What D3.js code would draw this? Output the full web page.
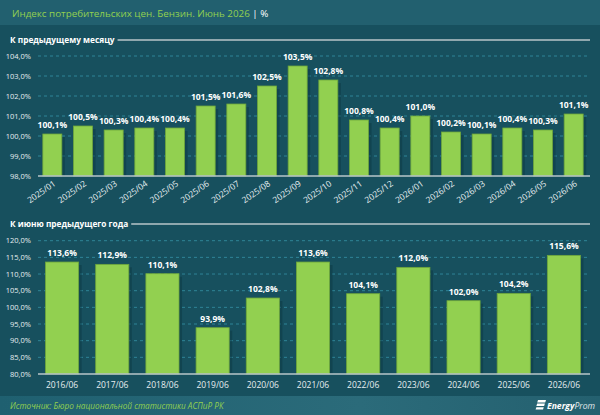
<!DOCTYPE html>
<html lang="ru">
<head>
<meta charset="UTF-8">
<title>Индекс потребительских цен. Бензин</title>
<style>
  body { margin: 0; background: #17505e; }
  svg { display: block; font-family: "Open Sans", "DejaVu Sans", sans-serif; }
  .tick-y { fill: #e6eef0; font-size: 7.5px; text-anchor: end; }
  .tick-x { fill: #e6eef0; font-size: 8.5px; }
  .val { fill: #ffffff; font-size: 8.5px; font-weight: bold; text-anchor: middle; }
  .grid { stroke: #2f8497; stroke-width: 1; stroke-dasharray: 3,3; }
  .base { stroke: #b9c6ca; stroke-width: 1.5; }
  .section { fill: #ffffff; font-size: 8.3px; font-weight: bold; }
  .bar { fill: #92d050; stroke: #6ea63b; stroke-width: 0.8; }
  .shadow { fill: #0c3540; opacity: 0.45; }
</style>
</head>
<body>
<svg id="chart" width="600" height="415"></svg>
<script src="https://cdn.jsdelivr.net/npm/d3@7/dist/d3.min.js"></script>
<script>
// Monthly index (to previous month)
const monthLabels = ["2025/01","2025/02","2025/03","2025/04","2025/05","2025/06","2025/07","2025/08","2025/09",
                     "2025/10","2025/11","2025/12","2026/01","2026/02","2026/03","2026/04","2026/05","2026/06"];
const monthValues = [100.1,100.5,100.3,100.4,100.4,101.5,101.6,102.5,103.5,102.8,100.8,100.4,101.0,100.2,100.1,100.4,100.3,101.1];
const monthTicks = [98,99,100,101,102,103,104];

// Annual index (June to June of previous year)
const yearLabels = ["2016/06","2017/06","2018/06","2019/06","2020/06","2021/06","2022/06","2023/06","2024/06","2025/06","2026/06"];
const yearValues = [113.6,112.9,110.1,93.9,102.8,113.6,104.1,112.0,102.0,104.2,115.6];
const yearTicks = [80,85,90,95,100,105,110,115,120];

const W = 600, H = 415;
const svg = d3.select("#chart");
const fmt = v => d3.format(".1f")(v).replace(".", ",") + "%";

// background, title bar, footer
svg.append("rect").attr("width", W).attr("height", H).attr("fill", "#17505e");
svg.append("rect").attr("width", W).attr("height", 25).attr("fill", "#22606f");

const defs = svg.append("defs");
const fg = defs.append("linearGradient").attr("id", "footGrad");
fg.append("stop").attr("offset", "0%").attr("stop-color", "#1f6070");
fg.append("stop").attr("offset", "60%").attr("stop-color", "#2b6b7a");
fg.append("stop").attr("offset", "100%").attr("stop-color", "#24606f");
svg.append("rect").attr("y", 396).attr("width", W).attr("height", 19).attr("fill", "url(#footGrad)");

const title = svg.append("text").attr("x", 12).attr("y", 16.5)
    .style("font-size", "9.8px");
title.append("tspan").attr("fill", "#92d050").text("Индекс потребительских цен. Бензин. Июнь 2026");
title.append("tspan").attr("fill", "#ffffff").text(" | %");

svg.append("text").attr("x", 10).attr("y", 408.5)
    .attr("fill", "#92d050").style("font-size", "8.2px").style("font-style", "italic")
    .text("Источник: Бюро национальной статистики АСПиР РК");

// logo
const logo = svg.append("g").attr("transform", "translate(535,399)");
[0, 3.6, 7.2].forEach((dy, i) => {
    logo.append("path")
        .attr("d", `M${3 - i * 0.8},${dy + 1} h${8 - i * 0.3} l-0.8,2.4 h-${8 - i * 0.3} z`)
        .attr("fill", "#ffffff");
});
const lt = logo.append("text").attr("x", 12).attr("y", 10).style("font-size", "8.6px")
    .style("font-style", "italic");
lt.append("tspan").attr("fill", "#ffffff").attr("font-weight", "bold").text("Energy");
lt.append("tspan").attr("fill", "#e0e8ea").text("Prom");

function section(label, y) {
    const t = svg.append("text").attr("class", "section").attr("x", 10).attr("y", y + 3).text(label);
    const w = t.node().getComputedTextLength();
    svg.append("line").attr("class", "base")
        .attr("x1", 10 + w + 3).attr("x2", 590).attr("y1", y).attr("y2", y);
}

function panel(opts) {
    const x = d3.scaleBand().domain(opts.labels).range([37, 589]).paddingInner(opts.pad).paddingOuter(opts.pad / 2);
    const y = d3.scaleLinear().domain(opts.domain).range([opts.bottom, opts.top]);
    const g = svg.append("g");

    g.selectAll(".grid").data(opts.ticks.slice(1)).join("line")
        .attr("class", "grid")
        .attr("x1", 38).attr("x2", 590)
        .attr("y1", d => y(d)).attr("y2", d => y(d));

    g.selectAll(".tick-y").data(opts.ticks).join("text")
        .attr("class", "tick-y")
        .attr("x", 31).attr("y", d => y(d) + 2.7)
        .text(d => d3.format(".1f")(d).replace(".", ",") + "%");

    const data = opts.labels.map((l, i) => ({ label: l, value: opts.values[i] }));

    g.selectAll(".shadow").data(data).join("rect")
        .attr("class", "shadow")
        .attr("x", d => x(d.label) + 3)
        .attr("y", d => y(d.value) + 3)
        .attr("width", x.bandwidth())
        .attr("height", d => y(opts.domain[0]) - y(d.value) - 3);

    g.selectAll(".bar").data(data).join("rect")
        .attr("class", "bar")
        .attr("x", d => x(d.label))
        .attr("y", d => y(d.value))
        .attr("width", x.bandwidth())
        .attr("height", d => y(opts.domain[0]) - y(d.value));

    g.selectAll(".val").data(data).join("text")
        .attr("class", "val")
        .attr("x", d => x(d.label) + x.bandwidth() / 2)
        .attr("y", d => y(d.value) - 6)
        .text(d => fmt(d.value));

    g.append("line").attr("class", "base")
        .attr("x1", 38).attr("x2", 590)
        .attr("y1", opts.bottom).attr("y2", opts.bottom);

    if (opts.rotate) {
        g.selectAll(".tick-x").data(opts.labels).join("text")
            .attr("class", "tick-x")
            .attr("text-anchor", "end")
            .attr("transform", d => `translate(${x(d) + x.bandwidth() / 2 + 4},${opts.bottom + 9}) rotate(-35)`)
            .text(d => d);
    } else {
        g.selectAll(".tick-x").data(opts.labels).join("text")
            .attr("class", "tick-x")
            .attr("text-anchor", "middle")
            .attr("x", d => x(d) + x.bandwidth() / 2)
            .attr("y", opts.bottom + 14)
            .text(d => d);
    }
}

section("К предыдущему месяцу", 40);
panel({ labels: monthLabels, values: monthValues, ticks: monthTicks, domain: [98, 104],
        top: 56, bottom: 176, pad: 0.38, rotate: true });

section("К июню предыдущего года", 224);
panel({ labels: yearLabels, values: yearValues, ticks: yearTicks, domain: [80, 120],
        top: 240.7, bottom: 374, pad: 0.34, rotate: false });
</script>
</body>
</html>
